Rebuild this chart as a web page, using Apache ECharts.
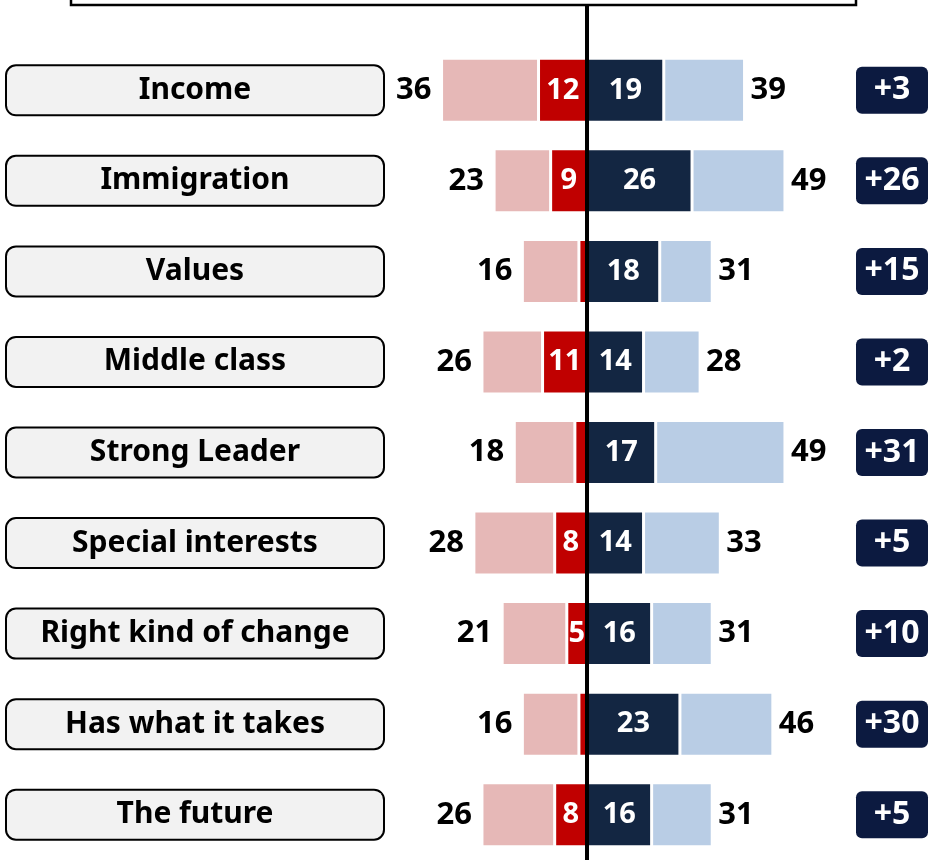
<!DOCTYPE html>
<html>
<head>
<meta charset="utf-8">
<script src="https://cdn.jsdelivr.net/npm/echarts@6/dist/echarts.min.js"></script>
<style>html,body{margin:0;padding:0;background:#fff}#c{width:931px;height:860px}</style>
</head>
<body>
<div id="c"></div>
<script>
const categories = ['Income','Immigration','Values','Middle class','Strong Leader','Special interests','Right kind of change','Has what it takes','The future'];
const strongNeg = [12, 9, 2, 11, 3, 8, 5, 2, 8];
const totalNeg  = [36, 23, 16, 26, 18, 28, 21, 16, 26];
const strongPos = [19, 26, 18, 14, 17, 14, 16, 23, 16];
const totalPos  = [39, 49, 31, 28, 49, 33, 31, 46, 31];
const netLabels = ['+3','+26','+15','+2','+31','+5','+10','+30','+5'];

const FONT = 'Noto Sans';
const chart = echarts.init(document.getElementById('c'), null, {renderer: 'canvas'});

const barBase = {type: 'bar', barWidth: 64, barGap: '-100%'};

chart.setOption({
  animation: false,
  backgroundColor: '#fff',
  grid: {left: 385, right: 141, top: 45, bottom: -15},
  xAxis: {type: 'value', min: -50, max: 50, show: false},
  yAxis: [
    {
      type: 'category', data: categories, inverse: true,
      axisLine: {show: false, onZero: false}, axisTick: {show: false},
      axisLabel: {
        interval: 0, margin: 190, align: 'center', verticalAlign: 'middle',
        width: 376, height: 48, lineHeight: 48,
        backgroundColor: '#f2f2f2', borderColor: '#000', borderWidth: 2, borderRadius: 9,
        fontFamily: FONT, fontWeight: 'bold', fontSize: 30, color: '#000'
      }
    },
    {
      type: 'category', data: netLabels, inverse: true, position: 'right',
      axisLine: {show: false, onZero: false}, axisTick: {show: false},
      axisLabel: {
        interval: 0, margin: 103, align: 'center', verticalAlign: 'middle',
        width: 72, height: 47, lineHeight: 47,
        backgroundColor: '#0c1a40', borderRadius: 6,
        fontFamily: FONT, fontWeight: 'bold', fontSize: 32, color: '#fff'
      }
    }
  ],
  series: [
    Object.assign({}, barBase, {
      name: 'strongNeg', stack: 'neg',
      data: strongNeg.map(v => -v),
      itemStyle: {color: '#c00000', borderColor: '#fff', borderWidth: 1.5},
      label: {show: true, position: 'inside', color: '#fff', fontFamily: FONT, fontWeight: 'bold', fontSize: 29,
        formatter: p => strongNeg[p.dataIndex] >= 4 ? String(strongNeg[p.dataIndex]) : ''}
    }),
    Object.assign({}, barBase, {
      name: 'totalNeg', stack: 'neg',
      data: totalNeg.map((t, i) => -(t - strongNeg[i])),
      itemStyle: {color: '#e6b8b7', borderColor: '#fff', borderWidth: 1.5},
      label: {show: true, position: 'left', distance: 10, color: '#000', fontFamily: FONT, fontWeight: 'bold', fontSize: 31,
        formatter: p => String(totalNeg[p.dataIndex])}
    }),
    Object.assign({}, barBase, {
      name: 'strongPos', stack: 'pos',
      data: strongPos,
      itemStyle: {color: '#132642', borderColor: '#fff', borderWidth: 1.5},
      label: {show: true, position: 'inside', color: '#fff', fontFamily: FONT, fontWeight: 'bold', fontSize: 29,
        formatter: p => String(strongPos[p.dataIndex])}
    }),
    Object.assign({}, barBase, {
      name: 'totalPos', stack: 'pos',
      data: totalPos.map((t, i) => t - strongPos[i]),
      itemStyle: {color: '#b9cde5', borderColor: '#fff', borderWidth: 1.5},
      label: {show: true, position: 'right', distance: 6, color: '#000', fontFamily: FONT, fontWeight: 'bold', fontSize: 31,
        formatter: p => String(totalPos[p.dataIndex])}
    })
  ]
});

const x0 = chart.convertToPixel({xAxisIndex: 0}, 0);
chart.setOption({
  graphic: [
    {type: 'rect', z: 100, shape: {x: 71, y: -20, width: 785, height: 25},
      style: {fill: '#fff', stroke: '#000', lineWidth: 2.5}},
    {type: 'line', z: 100, shape: {x1: x0, y1: 5, x2: x0, y2: 860},
      style: {stroke: '#000', lineWidth: 4}}
  ]
});
</script>
</body>
</html>
